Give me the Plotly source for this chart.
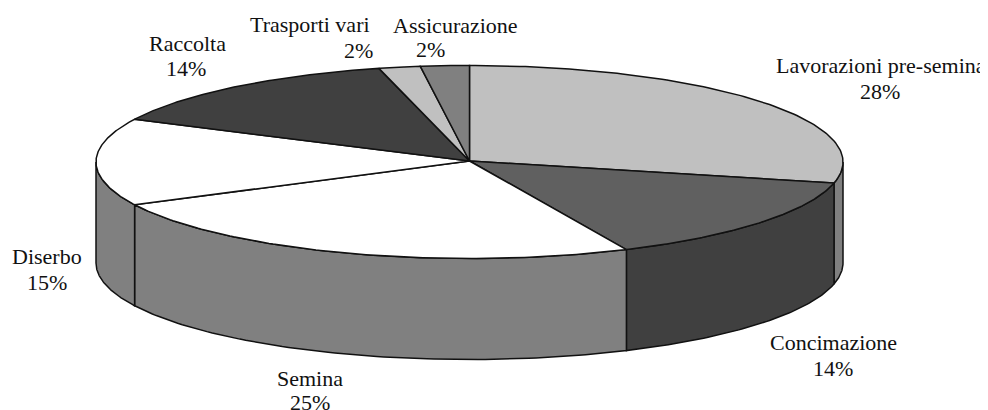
import numpy as np
import plotly.graph_objects as go

categories = ["Lavorazioni pre-semina", "Concimazione", "Semina", "Diserbo", "Raccolta", "Trasporti vari", "Assicurazione"]
percent_labels = ["28%", "14%", "25%", "15%", "14%", "2%", "2%"]
# slice shares as measured on the drawn pie (the printed labels are rounded)
shares = [28.5, 14.6, 24.6, 14.6, 13.8, 1.8, 2.1]

top_colors = ["#c0c0c0", "#606060", "#ffffff", "#ffffff", "#404040", "#c0c0c0", "#808080"]
side_colors = ["#808080", "#404040", "#808080", "#808080", "#404040", "#c0c0c0", "#808080"]
name_xy = [(881, 65), (833, 342), (310, 378), (47, 256), (187, 43), (310, 24), (455, 25)]
pct_xy = [(880, 91), (833, 368), (310, 402), (47, 282), (186, 68), (358, 50), (430, 49)]

CX, CY, RX, RY, DEPTH = 469.5, 162.0, 373.5, 96.5, 101.0
APEX = (469.5, 161.0)
PAGE_MARGIN = 8  # the page body offsets the figure by this many pixels


def ell(t_deg, dy=0.0):
    t = np.radians(t_deg)
    return CX + RX * np.sin(t), CY - RY * np.cos(t) + dy


fig = go.Figure()
edges = np.concatenate([[0], np.cumsum(shares)]) / np.sum(shares) * 360

line = dict(color="#111111", width=1.5)
# visible outer wall: front half of the cylinder only
for i in range(len(shares)):
    a, b = max(edges[i], 90), min(edges[i + 1], 270)
    if a >= b:
        continue
    ts = np.linspace(a, b, 80)
    xt, yt = ell(ts)
    xb, yb = ell(ts[::-1], DEPTH)
    fig.add_trace(go.Scatter(
        x=np.r_[xt, xb, xt[0]], y=np.r_[yt, yb, yt[0]], mode="lines",
        fill="toself", fillcolor=side_colors[i], line=line, hoverinfo="skip", showlegend=False))

# top face slices
for i in range(len(shares)):
    ts = np.linspace(edges[i], edges[i + 1], 120)
    xt, yt = ell(ts)
    fig.add_trace(go.Scatter(
        x=np.r_[APEX[0], xt, APEX[0]], y=np.r_[APEX[1], yt, APEX[1]], mode="lines",
        fill="toself", fillcolor=top_colors[i], line=line, name=categories[i],
        hoverinfo="name", showlegend=False))

font = dict(family="Liberation Serif", size=22, color="#111111")
for text, (x, y) in list(zip(categories, name_xy)) + list(zip(percent_labels, pct_xy)):
    fig.add_annotation(x=x, y=y, text=text, showarrow=False, xanchor="center", yanchor="middle", font=font)

fig.update_layout(
    width=988 - PAGE_MARGIN, height=410 - PAGE_MARGIN, margin=dict(l=0, r=0, t=0, b=0),
    paper_bgcolor="white", plot_bgcolor="white",
    xaxis=dict(range=[PAGE_MARGIN, 988], visible=False, fixedrange=True),
    yaxis=dict(range=[410, PAGE_MARGIN], visible=False, fixedrange=True),
)
fig.write_html("out.html")
